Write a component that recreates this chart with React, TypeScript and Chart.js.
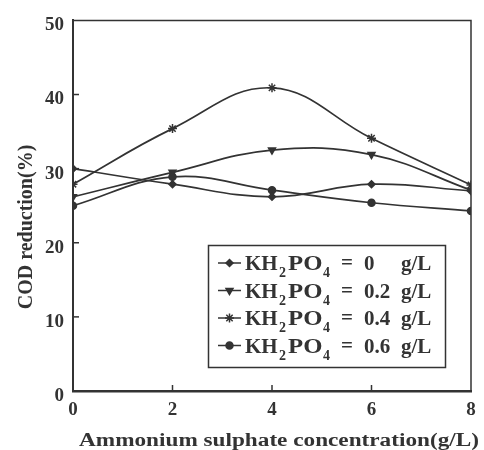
import React, { useEffect, useRef } from "react";
import { Chart, registerables } from "chart.js";
import { drawPoint } from "chart.js/helpers";

Chart.register(...registerables);

const xValues = [0, 2, 4, 6, 8];
const kh0 = [30.0, 27.9, 26.2, 27.9, 27.0];
const kh02 = [26.2, 29.5, 32.5, 31.9, 27.1];
const kh04 = [27.9, 35.4, 40.9, 34.1, 27.8];
const kh06 = [25.0, 28.9, 27.1, 25.4, 24.3];
const legendValues = ["0", "0.2", "0.4", "0.6"];
const yTitle = "COD reduction(%)";
const xTitle = "Ammonium sulphate concentration(g/L)";

const INK = "#333333";
const SERIF = '"Liberation Serif", "Times New Roman", serif';

const markers = [
  { style: "rectRot", radius: 3.5, rotation: 0 },
  { style: "triangle", radius: 4, rotation: 180 },
  { style: "star", radius: 4.5, rotation: 0 },
  { style: "circle", radius: 3.5, rotation: 0 },
];

const seriesList = [kh0, kh02, kh04, kh06];

const decorPlugin = {
  id: "decor",
  afterDraw(chart: any) {
    const ctx = chart.ctx as CanvasRenderingContext2D;
    const { left, right, top, bottom } = chart.chartArea;
    const xs = chart.scales.x;
    const ys = chart.scales.y;
    ctx.save();
    ctx.strokeStyle = INK;
    // frame top and right
    ctx.lineWidth = 1.5;
    ctx.beginPath();
    ctx.moveTo(left, top);
    ctx.lineTo(right, top);
    ctx.lineTo(right, bottom);
    ctx.stroke();
    // inner ticks
    ctx.lineWidth = 1.5;
    [10, 20, 30, 40].forEach((v) => {
      const y = ys.getPixelForValue(v);
      ctx.beginPath();
      ctx.moveTo(left, y);
      ctx.lineTo(left + 6, y);
      ctx.stroke();
    });
    [2, 4, 6].forEach((v) => {
      const x = xs.getPixelForValue(v);
      ctx.beginPath();
      ctx.moveTo(x, bottom);
      ctx.lineTo(x, bottom - 6);
      ctx.stroke();
    });
    // axis titles
    ctx.fillStyle = INK;
    ctx.save();
    ctx.translate(27, 227);
    ctx.rotate(-Math.PI / 2);
    ctx.font = `bold 20px ${SERIF}`;
    ctx.textAlign = "center";
    ctx.textBaseline = "middle";
    ctx.fillText(yTitle, 0, 0);
    ctx.restore();
    ctx.save();
    ctx.translate(279, 441);
    ctx.scale(1.29, 1);
    ctx.font = `bold 18px ${SERIF}`;
    ctx.textAlign = "center";
    ctx.textBaseline = "middle";
    ctx.fillText(xTitle, 0, 0);
    ctx.restore();
    // legend
    ctx.fillStyle = "#fff";
    ctx.fillRect(208, 245, 238, 123);
    ctx.lineWidth = 1.5;
    ctx.strokeRect(208.5, 245.5, 237, 122);
    ctx.fillStyle = INK;
    ctx.textBaseline = "alphabetic";
    ctx.textAlign = "left";
    legendValues.forEach((val, i) => {
      const cy = 263 + i * 27.5;
      const m = markers[i];
      ctx.lineWidth = 1.5;
      ctx.beginPath();
      ctx.moveTo(218, cy);
      ctx.lineTo(241, cy);
      ctx.stroke();
      ctx.fillStyle = INK;
      drawPoint(ctx, { pointStyle: m.style, radius: m.radius, rotation: m.rotation, borderWidth: 1.5 } as any, 229.5, cy);
      const base = cy + 7;
      ctx.font = `bold 21px ${SERIF}`;
      ctx.fillText("KH", 245, base);
      ctx.font = `bold 14px ${SERIF}`;
      ctx.fillText("2", 279, base + 7);
      ctx.font = `bold 21px ${SERIF}`;
      ctx.save();
      ctx.translate(288, base);
      ctx.scale(1.18, 1);
      ctx.fillText("PO", 0, 0);
      ctx.restore();
      ctx.font = `bold 14px ${SERIF}`;
      ctx.fillText("4", 323, base + 7);
      ctx.font = `bold 21px ${SERIF}`;
      ctx.fillText("=", 341, base - 1);
      ctx.fillText(val, 364, base);
      ctx.fillText("g/L", 401, base);
    });
    ctx.restore();
  },
};

export default function App() {
  const ref = useRef<HTMLCanvasElement | null>(null);
  useEffect(() => {
    if (!ref.current) return;
    const chart = new Chart(ref.current, {
      type: "line",
      data: {
        datasets: seriesList.map((s, i) => ({
          label: `KH2PO4 = ${legendValues[i]} g/L`,
          data: xValues.map((x, j) => ({ x, y: s[j] })),
          borderColor: INK,
          backgroundColor: INK,
          borderWidth: 1.7,
          tension: 0.4,
          pointStyle: markers[i].style as any,
          pointRadius: markers[i].radius,
          pointRotation: markers[i].rotation,
          pointBorderWidth: 1.5,
          pointBorderColor: INK,
          pointBackgroundColor: INK,
          fill: false,
        })),
      },
      options: {
        responsive: false,
        animation: false,
        layout: { padding: { top: 17, right: 13, left: 0, bottom: 0 } },
        plugins: { legend: { display: false }, tooltip: { enabled: false } },
        scales: {
          x: {
            type: "linear",
            min: 0,
            max: 8,
            ticks: {
              stepSize: 2,
              color: INK,
              padding: 8,
              font: { family: SERIF, size: 19, weight: "bold" },
            },
            grid: { display: false, drawTicks: false },
            border: { display: true, color: INK, width: 2.5 },
            afterFit: (s: any) => {
              s.height = 59;
            },
          },
          y: {
            min: 0,
            max: 50,
            ticks: {
              stepSize: 10,
              color: INK,
              padding: 9,
              labelOffset: 5,
              font: { family: SERIF, size: 19, weight: "bold" },
            },
            grid: { display: false, drawTicks: false },
            border: { display: true, color: INK, width: 2 },
            afterFit: (s: any) => {
              s.width = 73;
            },
          },
        },
      },
      plugins: [decorPlugin],
    });
    return () => chart.destroy();
  }, []);
  return (
    <div style={{ position: "absolute", left: 0, top: 0, width: 484, height: 450, background: "#fff" }}>
      <canvas ref={ref} width={484} height={450} />
    </div>
  );
}
